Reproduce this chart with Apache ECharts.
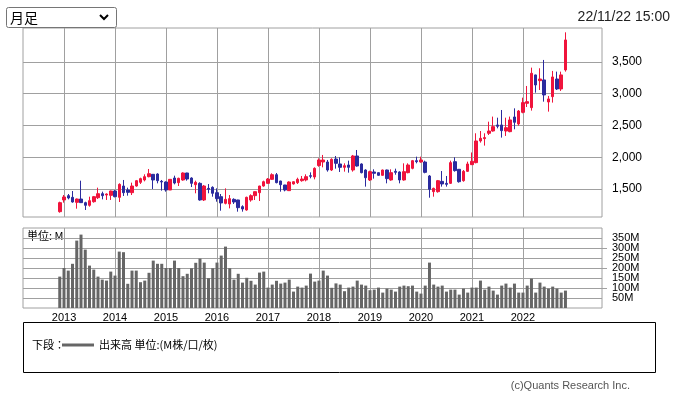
<!DOCTYPE html>
<html><head><meta charset="utf-8">
<script src="https://cdn.jsdelivr.net/npm/echarts@6/dist/echarts.min.js"></script>
<style>html,body{margin:0;padding:0;background:#fff;}#c{width:676px;height:396px;}</style>
</head><body><div id="c"></div>
<script>
const months = [
 '2012-12',
 '2013-01','2013-02','2013-03','2013-04','2013-05','2013-06','2013-07','2013-08','2013-09','2013-10','2013-11','2013-12',
 '2014-01','2014-02','2014-03','2014-04','2014-05','2014-06','2014-07','2014-08','2014-09','2014-10','2014-11','2014-12',
 '2015-01','2015-02','2015-03','2015-04','2015-05','2015-06','2015-07','2015-08','2015-09','2015-10','2015-11','2015-12',
 '2016-01','2016-02','2016-03','2016-04','2016-05','2016-06','2016-07','2016-08','2016-09','2016-10','2016-11','2016-12',
 '2017-01','2017-02','2017-03','2017-04','2017-05','2017-06','2017-07','2017-08','2017-09','2017-10','2017-11','2017-12',
 '2018-01','2018-02','2018-03','2018-04','2018-05','2018-06','2018-07','2018-08','2018-09','2018-10','2018-11','2018-12',
 '2019-01','2019-02','2019-03','2019-04','2019-05','2019-06','2019-07','2019-08','2019-09','2019-10','2019-11','2019-12',
 '2020-01','2020-02','2020-03','2020-04','2020-05','2020-06','2020-07','2020-08','2020-09','2020-10','2020-11','2020-12',
 '2021-01','2021-02','2021-03','2021-04','2021-05','2021-06','2021-07','2021-08','2021-09','2021-10','2021-11','2021-12',
 '2022-01','2022-02','2022-03','2022-04','2022-05','2022-06','2022-07','2022-08','2022-09','2022-10','2022-11'
];
const open = [
 1143,
 1327,1395,1369,1290,1342,1285,1243,1300,1363,1426,1405,1400,
 1468,1369,1547,1484,1442,1547,1605,1642,1694,1731,1736,1620,
 1610,1484,1673,1600,1642,1752,1673,1568,1589,1327,1510,1526,
 1442,1379,1274,1264,1337,1327,1222,1169,1327,1395,1442,1547,
 1589,1652,1725,1626,1563,1474,1579,1600,1631,1642,1710,1689,
 1870,1925,1925,1799,1972,1894,1841,1878,1799,2020,1894,1799,
 1642,1768,1757,1715,1799,1642,1778,1768,1642,1757,1825,1946,
 1925,1925,1705,1458,1458,1620,1589,1589,1930,1810,1631,1778,
 1883,1915,2256,2293,2377,2413,2508,2508,2413,2403,2634,2524,
 2707,2849,2781,3296,3206,3217,2870,2954,3232,3075,3374
];
const close = [
 1285,
 1374,1358,1295,1342,1285,1243,1316,1379,1426,1395,1421,1468,
 1379,1573,1442,1447,1547,1631,1663,1694,1741,1642,1631,1610,
 1484,1652,1594,1668,1752,1657,1589,1605,1327,1547,1495,1432,
 1348,1280,1337,1348,1295,1206,1185,1369,1395,1458,1547,1615,
 1657,1725,1600,1568,1484,1610,1615,1652,1657,1694,1700,1825,
 1957,1957,1799,1967,1904,1841,1867,1841,2020,1862,1757,1678,
 1773,1747,1715,1799,1663,1757,1762,1642,1773,1878,1946,1930,
 1957,1762,1495,1510,1631,1579,1573,1915,1789,1615,1778,1894,
 1936,2256,2298,2309,2413,2482,2487,2419,2466,2587,2550,2728,
 2860,2875,3322,3138,3232,2981,2918,3264,3075,3296,3847
];
const low = [
 1127,
 1285,1337,1285,1190,1280,1169,1222,1285,1342,1337,1327,1327,
 1369,1295,1390,1395,1405,1537,1579,1620,1684,1500,1589,1474,
 1458,1484,1573,1547,1631,1631,1531,1432,1316,1311,1432,1379,
 1300,1158,1258,1195,1264,1143,1143,1158,1300,1327,1311,1537,
 1585,1645,1589,1458,1463,1470,1570,1579,1615,1620,1668,1652,
 1850,1841,1773,1783,1820,1768,1773,1757,1773,1852,1746,1537,
 1626,1663,1710,1710,1589,1631,1725,1589,1631,1747,1810,1904,
 1915,1747,1363,1379,1442,1537,1537,1579,1773,1600,1615,1768,
 1878,1904,2230,2183,2350,2403,2455,2309,2335,2393,2440,2498,
 2692,2791,2734,3017,3059,2875,2718,2860,3059,3044,3348
];
const high = [
 1300,
 1405,1421,1468,1350,1631,1300,1379,1390,1521,1458,1430,1475,
 1484,1589,1642,1521,1600,1642,1678,1731,1815,1736,1747,1642,
 1620,1655,1710,1678,1762,1755,1684,1631,1605,1563,1578,1542,
 1510,1421,1510,1405,1353,1330,1243,1379,1416,1460,1550,1631,
 1673,1747,1752,1630,1565,1620,1620,1678,1705,1731,1762,1841,
 1983,2036,1957,1983,2020,1999,1904,1946,2036,2114,1904,1810,
 1788,1810,1760,1805,1805,1810,1820,1778,1904,1904,1957,2009,
 2009,1946,1720,1521,1642,1783,1705,1946,1999,1815,1799,1930,
 2075,2377,2413,2377,2560,2640,2623,2744,2623,2640,2770,2744,
 2938,3122,3411,3300,3401,3532,2965,3359,3348,3348,3967
];
const volume = [
 157,
 200,187,221,337,367,292,212,192,157,142,137,182,
 162,282,279,121,187,187,129,137,176,237,221,221,
 200,200,237,200,159,171,199,226,247,227,149,199,
 227,262,307,199,142,171,127,151,136,117,177,182,
 102,117,136,122,127,142,82,107,102,112,172,132,
 137,187,162,101,123,117,84,102,107,137,117,112,
 89,92,102,77,97,92,82,107,112,109,112,82,
 72,112,227,117,107,112,82,92,92,67,97,77,
 102,102,137,92,107,87,67,112,122,102,122,77,
 77,112,147,77,127,107,97,107,97,77,87
];
const yearLabels = ['2013','2014','2015','2016','2017','2018','2019','2020','2021','2022'];
const priceTicks = [1500, 2000, 2500, 3000, 3500];
const volumeTicksOdd = [50, 150, 250, 350];
const volumeTicksEven = [100, 200, 300];

const toX = s => { const p = s.split('-').map(Number); return (p[0] - 2013) * 12 + (p[1] - 1); };
const yearTicks = yearLabels.map(y => (Number(y) - 2013) * 12);
const candleData = months.map((m, i) => [toX(m), open[i], close[i], low[i], high[i]]);
const volData = months.map((m, i) => [toX(m), volume[i]]);

const GRID = '#a0a0a0';
const LAT = 'Liberation Sans, Arial, sans-serif';
const CJK = 'Noto Sans CJK JP, sans-serif';
const xCommon = {
  type: 'value', min: -9.65, max: 126.6,
  axisLine: { show: false },
  axisTick: { show: false, customValues: yearTicks },
  splitLine: { show: true, lineStyle: { color: GRID, width: 1 } }
};
const volAxis = (ticks) => ({
  type: 'value', gridIndex: 1, position: 'right', min: 0, max: 400,
  axisLine: { show: false },
  axisTick: { show: true, length: 5, customValues: ticks, lineStyle: { color: GRID } },
  axisLabel: { customValues: ticks, margin: 10, fontSize: 11, fontFamily: LAT, color: '#000',
    showMinLabel: true, showMaxLabel: true, hideOverlap: false, formatter: v => v + 'M' },
  splitLine: { show: true, lineStyle: { color: GRID } }
});
const chart = echarts.init(document.getElementById('c'), null, { renderer: 'canvas' });
chart.setOption({
  animation: false,
  backgroundColor: '#fff',
  grid: [
    { left: 23, top: 28, width: 579, height: 189, show: true, borderColor: GRID, borderWidth: 1 },
    { left: 23, top: 228, width: 579, height: 80, show: true, borderColor: GRID, borderWidth: 1 }
  ],
  xAxis: [
    Object.assign({}, xCommon, { gridIndex: 0, axisLabel: { show: false, customValues: yearTicks } }),
    Object.assign({}, xCommon, { gridIndex: 1, axisLabel: { show: true, customValues: yearTicks, margin: 4,
      showMinLabel: true, showMaxLabel: true, hideOverlap: false,
      formatter: v => yearLabels[yearTicks.indexOf(v)], fontSize: 11, fontFamily: LAT, color: '#000' } })
  ],
  yAxis: [
    { type: 'value', gridIndex: 0, position: 'right', min: 1059, max: 4035,
      axisLine: { show: false },
      axisTick: { show: true, length: 5, customValues: priceTicks, lineStyle: { color: GRID } },
      axisLabel: { customValues: priceTicks, margin: 10, fontSize: 12, fontFamily: LAT, color: '#000',
        showMinLabel: true, showMaxLabel: true, hideOverlap: false,
        formatter: v => v.toLocaleString('en-US') },
      splitLine: { show: true, lineStyle: { color: GRID } } },
    volAxis(volumeTicksOdd),
    Object.assign(volAxis(volumeTicksEven), { offset: 0 })
  ],
  series: [
    { type: 'candlestick', xAxisIndex: 0, yAxisIndex: 0, data: candleData, barWidth: 3,
      itemStyle: { color: '#f0143c', color0: '#2b2b9e', borderColor: '#f0143c', borderColor0: '#2b2b9e', borderWidth: 1 } },
    { type: 'bar', xAxisIndex: 1, yAxisIndex: 1, data: volData, barWidth: 3,
      itemStyle: { color: '#666666' } }
  ],
  graphic: [
    { type: 'rect', shape: { x: 6.5, y: 7.5, width: 110, height: 20, r: 2 }, style: { fill: '#fff', stroke: '#767676', lineWidth: 1 } },
    { type: 'text', x: 10, y: 17.5, style: { text: '月足', font: '14px ' + CJK, fill: '#000', verticalAlign: 'middle' } },
    { type: 'polyline', shape: { points: [[100, 15], [104, 19], [108, 15]] }, style: { stroke: '#000', lineWidth: 2, fill: null } },
    { type: 'text', x: 670, y: 17, style: { text: '22/11/22 15:00', font: '14px ' + LAT, fill: '#222', align: 'right', verticalAlign: 'middle' } },
    { type: 'text', x: 27, y: 235.5, style: { text: '単位: M', font: '11px ' + CJK, fill: '#000', verticalAlign: 'middle' } },
    { type: 'rect', shape: { x: 23.5, y: 322.5, width: 632, height: 50 }, style: { fill: null, stroke: '#000', lineWidth: 1 } },
    { type: 'text', x: 32, y: 345, style: { text: '下段：', font: '11px ' + CJK, fill: '#000', verticalAlign: 'middle' } },
    { type: 'line', shape: { x1: 62, y1: 345, x2: 94, y2: 345 }, style: { stroke: '#666', lineWidth: 3 } },
    { type: 'text', x: 99, y: 345, style: { text: '出来高 単位:(M株/口/枚)', font: '11px ' + CJK, fill: '#000', verticalAlign: 'middle' } },
    { type: 'text', x: 630, y: 386, style: { text: '(c)Quants Research Inc.', font: '11px ' + LAT, fill: '#555', align: 'right', verticalAlign: 'middle' } }
  ]
});
</script>
</body></html>
